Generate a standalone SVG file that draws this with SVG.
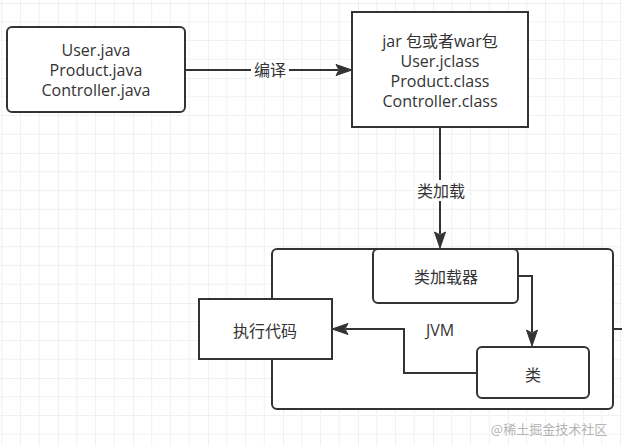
<svg xmlns="http://www.w3.org/2000/svg" width="629" height="446" viewBox="0 0 629 446">
  <style>
    .box { fill: #ffffff; stroke: #333333; stroke-width: 2; }
    .edge { fill: none; stroke: #333333; stroke-width: 2; }
    .head { fill: #333333; stroke: #333333; stroke-width: 1; stroke-linejoin: miter; }
    .t { font-family: "Open Sans", "Noto Sans CJK SC", sans-serif; font-size: 16px; fill: #333333; text-anchor: middle; }
    .c { dominant-baseline: central; }
    .wm { font-family: "Noto Sans CJK SC", sans-serif; font-size: 13px; fill: #b4b4b4; text-anchor: middle; dominant-baseline: central; }
  </style>
  <defs>
    <pattern id="grid" patternUnits="userSpaceOnUse" x="-17" y="3" width="75" height="75">
      <path d="M18.75 0V75M37.5 0V75M56.25 0V75M0 18.75H75M0 37.5H75M0 56.25H75" stroke="#f1f1f1" stroke-width="1" fill="none"/>
      <path d="M0 0V75M0 0H75" stroke="#e2e2e2" stroke-width="1" fill="none"/>
    </pattern>
  </defs>
  <rect width="629" height="446" fill="#ffffff"/>
  <rect width="622" height="446" fill="url(#grid)"/>

  <g id="n-jvm">
    <rect class="box" x="272" y="249" width="341" height="160" rx="5"/>
    <text class="t c" x="440" y="330">JVM</text>
  </g>

  <g id="connectors">
    <g id="e-compile">
      <line class="edge" x1="185" y1="70" x2="338" y2="70"/>
      <polygon class="head" points="352,70 336,64.5 339,70 336,75.5"/>
      <rect x="251" y="60" width="38" height="20" fill="#ffffff"/>
      <text class="t c" x="270" y="70">编译</text>
    </g>
    <g id="e-load">
      <line class="edge" x1="440" y1="127" x2="440" y2="234"/>
      <polygon class="head" points="440,248 434.5,232 440,235 445.5,232"/>
      <rect x="415" y="180" width="52" height="21" fill="#ffffff"/>
      <text class="t c" x="441" y="190.5">类加载</text>
    </g>
    <g id="e-loader-class">
      <path class="edge" d="M518 276H532V332"/>
      <polygon class="head" points="532,346 526.5,330 532,333 537.5,330"/>
    </g>
    <g id="e-class-exec">
      <path class="edge" d="M477 373H404V329H346"/>
      <polygon class="head" points="332,329 348,323.5 345,329 348,334.5"/>
    </g>
    <line class="edge" x1="613" y1="329" x2="622" y2="329"/>
  </g>

  <g id="n-source">
    <rect class="box" x="7" y="27" width="178" height="85" rx="5"/>
    <text class="t" x="96" y="56">User.java</text>
    <text class="t" x="96" y="76">Product.java</text>
    <text class="t" x="96" y="96">Controller.java</text>
  </g>

  <g id="n-jar">
    <rect class="box" x="352" y="12" width="176" height="115"/>
    <text class="t" x="440" y="47">jar 包或者war包</text>
    <text class="t" x="440" y="67">User.jclass</text>
    <text class="t" x="440" y="87">Product.class</text>
    <text class="t" x="440" y="107">Controller.class</text>
  </g>

  <g id="n-loader">
    <rect class="box" x="373" y="249" width="145" height="54" rx="5"/>
    <text class="t c" x="446" y="277">类加载器</text>
  </g>

  <g id="n-class">
    <rect class="box" x="477" y="347" width="112" height="51" rx="5"/>
    <text class="t c" x="533" y="375">类</text>
  </g>

  <g id="n-exec">
    <rect class="box" x="199" y="299" width="133" height="60"/>
    <text class="t c" x="265" y="331">执行代码</text>
  </g>

  <text class="wm" x="549" y="428">@稀土掘金技术社区</text>
</svg>
